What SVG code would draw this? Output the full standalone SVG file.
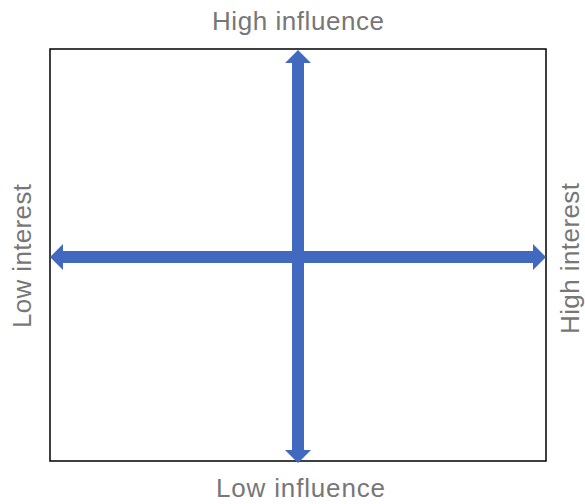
<svg xmlns="http://www.w3.org/2000/svg" width="585" height="504" viewBox="0 0 585 504">
  <style>
    .lbl { font-family: "Liberation Sans", Arial, sans-serif; font-size: 26px; fill: #777777; }
    .arrow { fill: #4169BF; }
  </style>
  <rect x="0" y="0" width="585" height="504" fill="#ffffff"/>
  <g id="frame">
    <rect x="50" y="49" width="496" height="412" fill="none" stroke="#000000" stroke-width="1.5"/>
  </g>
  <g id="connectors">
    <polygon class="arrow" points="50,257 63,244 63,251 533,251 533,244 546,257 533,270 533,263 63,263 63,270"/>
    <polygon class="arrow" points="298,50 311,63 304,63 304,450 311,450 298,463 285,450 292,450 292,63 285,63"/>
  </g>
  <g id="label-top">
    <text class="lbl" x="212" y="30" textLength="172" lengthAdjust="spacing">High influence</text>
  </g>
  <g id="label-bottom">
    <text class="lbl" x="216" y="497" textLength="169" lengthAdjust="spacing">Low influence</text>
  </g>
  <g id="label-left">
    <text class="lbl" transform="translate(31,328) rotate(-90)" textLength="144" lengthAdjust="spacing">Low interest</text>
  </g>
  <g id="label-right">
    <text class="lbl" transform="translate(579,334) rotate(-90)" textLength="151" lengthAdjust="spacing">High interest</text>
  </g>
</svg>
